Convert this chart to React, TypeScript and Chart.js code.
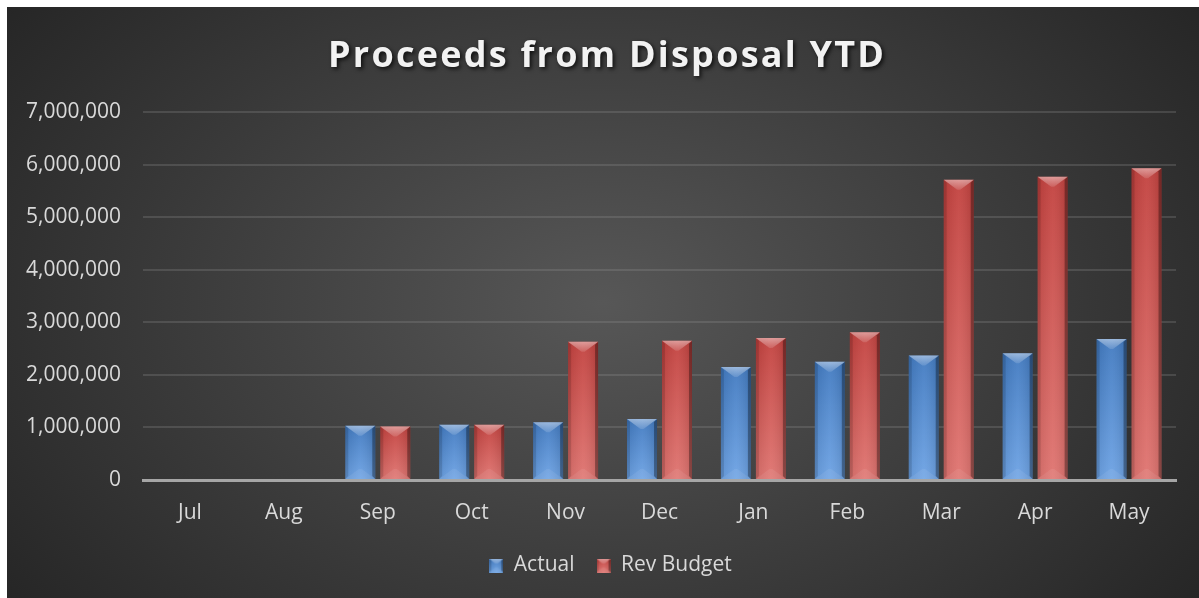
import React, { useEffect, useRef } from 'react';
import { Chart, registerables } from 'chart.js';

Chart.register(...registerables);

const TITLE = 'Proceeds from Disposal YTD';
const categories = ['Jul', 'Aug', 'Sep', 'Oct', 'Nov', 'Dec', 'Jan', 'Feb', 'Mar', 'Apr', 'May'];
const actualValues = [0, 0, 1030000, 1050000, 1100000, 1160000, 2150000, 2250000, 2370000, 2410000, 2680000];
const revBudgetValues = [0, 0, 1020000, 1050000, 2630000, 2650000, 2700000, 2810000, 5710000, 5770000, 5930000];
const seriesNames = ['Actual', 'Rev Budget'];
const yTickValues = [0, 1000000, 2000000, 3000000, 4000000, 5000000, 6000000, 7000000];

const W = 1192;
const H = 591;
const FONT = "'Open Sans', 'Noto Sans', sans-serif";
const TEXT = '#d9d9d9';

const BLUE = { top: '#4079c0', bottom: '#6ca2e4', flat: '#4f86c9' };
const RED = { top: '#c2403d', bottom: '#df736f', flat: '#cc4f4c' };

function poly(ctx: CanvasRenderingContext2D, pts: number[][]) {
  ctx.beginPath();
  ctx.moveTo(pts[0][0], pts[0][1]);
  for (let i = 1; i < pts.length; i++) ctx.lineTo(pts[i][0], pts[i][1]);
  ctx.closePath();
  ctx.fill();
}

function drawBevel(ctx: CanvasRenderingContext2D, l: number, t: number, r: number, b: number, depth: number, side: number) {
  const w = r - l;
  const h = b - t;
  const d = Math.max(0, Math.min(depth, w / 2 - 1, h / 2));
  const s = Math.min(side, w / 6, h / 2);
  const cx = (l + r) / 2;
  ctx.save();
  const hg = ctx.createLinearGradient(l, 0, r, 0);
  hg.addColorStop(0, 'rgba(0,0,0,0.08)');
  hg.addColorStop(0.5, 'rgba(255,255,255,0.06)');
  hg.addColorStop(1, 'rgba(0,0,0,0.12)');
  ctx.fillStyle = hg;
  ctx.fillRect(l, t, w, h);
  ctx.fillStyle = 'rgba(0,0,0,0.13)';
  poly(ctx, [[l, t], [l + s, t + s], [l + s, b - s], [l, b]]);
  ctx.fillStyle = 'rgba(0,0,0,0.32)';
  poly(ctx, [[r, t], [r - s, t + s], [r - s, b - s], [r, b]]);
  const tg = ctx.createLinearGradient(0, t, 0, t + d);
  tg.addColorStop(0, 'rgba(255,255,255,0.45)');
  tg.addColorStop(1, 'rgba(255,255,255,0.12)');
  ctx.fillStyle = tg;
  poly(ctx, [[l, t], [r, t], [cx + 1.5, t + d], [cx - 1.5, t + d]]);
  ctx.fillStyle = 'rgba(255,255,255,0.07)';
  poly(ctx, [[l, b], [r, b], [cx + 1.5, b - d], [cx - 1.5, b - d]]);
  ctx.restore();
}

function legendIcon(c: { top: string; bottom: string }) {
  const cv = document.createElement('canvas');
  cv.width = 14;
  cv.height = 14;
  const ctx = cv.getContext('2d')!;
  const g = ctx.createLinearGradient(0, 0, 0, 14);
  g.addColorStop(0, c.top);
  g.addColorStop(1, c.bottom);
  ctx.fillStyle = g;
  ctx.fillRect(0, 0, 14, 14);
  drawBevel(ctx, 0, 0, 14, 14, 5, 2);
  return cv;
}

function barFill(c: { top: string; bottom: string; flat: string }) {
  return (sc: any) => {
    if (sc.type !== 'data') return c.flat;
    const chart = sc.chart;
    const ys = chart.scales && chart.scales.y;
    if (!ys) return c.flat;
    const t = ys.getPixelForValue(sc.raw);
    const b = ys.getPixelForValue(0);
    if (!isFinite(t) || !isFinite(b) || b - t < 1) return c.flat;
    const g = chart.ctx.createLinearGradient(0, t, 0, b);
    g.addColorStop(0, c.top);
    g.addColorStop(1, c.bottom);
    return g;
  };
}

const backgroundPlugin = {
  id: 'bgGradient',
  beforeDraw(chart: any) {
    const { ctx, width, height } = chart;
    ctx.save();
    const cx = width / 2;
    const cy = height * 0.5;
    const rx = width * 0.62;
    const ry = height * 0.85;
    const k = ry / rx;
    ctx.translate(cx, cy);
    ctx.scale(1, k);
    const g = ctx.createRadialGradient(0, 0, 0, 0, 0, rx);
    g.addColorStop(0, '#575757');
    g.addColorStop(1, '#262626');
    ctx.fillStyle = g;
    ctx.fillRect(-cx, -cy / k, width, height / k);
    ctx.restore();
  },
};

const bevelPlugin = {
  id: 'bevelBars',
  afterDatasetsDraw(chart: any) {
    const ctx = chart.ctx;
    chart.data.datasets.forEach((_ds: any, i: number) => {
      const meta = chart.getDatasetMeta(i);
      meta.data.forEach((el: any) => {
        const p = el.getProps(['x', 'y', 'base', 'width'], true);
        const top = Math.min(p.y, p.base);
        const bottom = Math.max(p.y, p.base);
        if (bottom - top < 1) return;
        drawBevel(ctx, p.x - p.width / 2, top, p.x + p.width / 2, bottom, 10, 3);
      });
    });
  },
};

const legendShiftPlugin = {
  id: 'legendShift',
  afterLayout(chart: any) {
    const lg = chart.legend;
    if (lg) {
      lg.left += 19;
      lg.right += 19;
    }
  },
};

const titlePlugin = {
  id: 'shadowTitle',
  afterDraw(chart: any) {
    const ctx = chart.ctx;
    ctx.save();
    ctx.font = `bold 36px ${FONT}`;
    const w0 = ctx.measureText(TITLE).width;
    const spacing = Math.max(0, (556 - w0) / (TITLE.length - 1));
    (ctx as any).letterSpacing = `${spacing}px`;
    ctx.textAlign = 'center';
    ctx.textBaseline = 'middle';
    ctx.shadowColor = 'rgba(0,0,0,0.75)';
    ctx.shadowBlur = 4;
    ctx.shadowOffsetX = 2;
    ctx.shadowOffsetY = 2;
    ctx.fillStyle = '#f2f2f2';
    ctx.fillText(TITLE, 599 + spacing / 2, 50);
    ctx.restore();
  },
};

export default function App() {
  const ref = useRef<HTMLCanvasElement>(null);
  useEffect(() => {
    document.body.style.margin = '0';
    const canvas = ref.current!;
    const chart = new Chart(canvas, {
      type: 'bar',
      data: {
        labels: categories,
        datasets: [
          {
            label: seriesNames[0],
            data: actualValues,
            backgroundColor: barFill(BLUE),
            borderWidth: 0,
            categoryPercentage: 0.745,
            barPercentage: 0.857,
            pointStyle: legendIcon(BLUE) as any,
          },
          {
            label: seriesNames[1],
            data: revBudgetValues,
            backgroundColor: barFill(RED),
            borderWidth: 0,
            categoryPercentage: 0.745,
            barPercentage: 0.857,
            pointStyle: legendIcon(RED) as any,
          },
        ],
      },
      options: {
        responsive: false,
        devicePixelRatio: 1,
        animation: false,
        events: [],
        layout: { padding: { top: 105, left: 0, right: 23, bottom: 12 } },
        scales: {
          x: {
            afterFit(s: any) {
              s.height = 53;
            },
            ticks: { color: TEXT, font: { family: FONT, size: 21 }, padding: 20, maxRotation: 0 },
            grid: { display: false, drawTicks: false },
            border: { display: true, color: '#a6a6a6', width: 3, z: 1 },
          },
          y: {
            min: 0,
            max: 7000000,
            afterFit(s: any) {
              s.width = 136;
            },
            afterBuildTicks(s: any) {
              s.ticks = yTickValues.map((v) => ({ value: v }));
            },
            ticks: {
              color: TEXT,
              font: { family: FONT, size: 21 },
              padding: 22,
              callback: (v: any) => Number(v).toLocaleString('en-US'),
            },
            grid: {
              drawTicks: false,
              color: (c: any) => (c.tick && c.tick.value === 0 ? 'rgba(0,0,0,0)' : 'rgba(150,150,150,0.25)'),
              lineWidth: 2,
            },
            border: { display: false },
          },
        },
        plugins: {
          title: { display: false },
          tooltip: { enabled: false },
          legend: {
            position: 'bottom',
            labels: {
              usePointStyle: true,
              pointStyleWidth: 14,
              boxWidth: 14,
              boxHeight: 14,
              padding: 22,
              color: TEXT,
              font: { family: FONT, size: 21 },
            },
          },
        },
      },
      plugins: [backgroundPlugin, bevelPlugin, titlePlugin, legendShiftPlugin],
    } as any);
    return () => chart.destroy();
  }, []);
  return (
    <div style={{ position: 'absolute', left: 7, top: 7, width: W, height: H }}>
      <canvas ref={ref} width={W} height={H} style={{ display: 'block', width: W, height: H }} />
    </div>
  );
}
